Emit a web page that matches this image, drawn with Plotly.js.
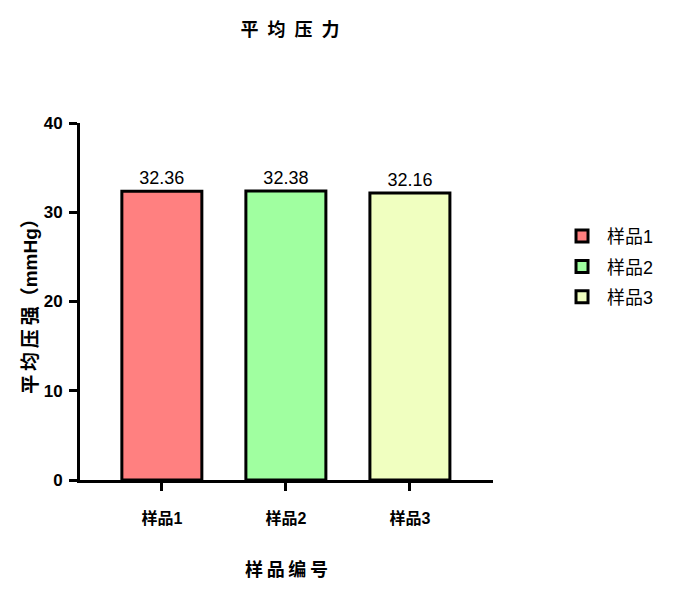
<!DOCTYPE html>
<html>
<head>
<meta charset="utf-8">
<script src="https://cdn.plot.ly/plotly-3.0.1.min.js"></script>
<style>html,body{margin:0;padding:0;background:#fff;}</style>
</head>
<body>
<div id="chart" style="width:679px;height:599px;"></div>
<script>
const categories = ["样品1", "样品2", "样品3"];
const values = [32.36, 32.38, 32.16];
const labels = ["32.36", "32.38", "32.16"];
const colors = ["#FF8080", "#A0FFA0", "#F0FFC0"];

const CJK = "Arial, 'Liberation Sans', 'Noto Sans CJK SC', sans-serif";

const traces = categories.map((c, i) => ({
  type: "bar",
  x: [c],
  y: [values[i]],
  name: c,
  width: 0.645,
  marker: { color: colors[i], line: { color: "#000", width: 3 } },
  text: [labels[i]],
  textposition: "outside",
  textfont: { family: CJK, size: 18, color: "#000" },
  cliponaxis: false,
  legendgroup: "g" + i,
  hoverinfo: "none"
}));

const layout = {
  width: 679,
  height: 599,
  margin: { l: 80, r: 186, t: 123, b: 119 },
  paper_bgcolor: "#fff",
  plot_bgcolor: "#fff",
  barmode: "overlay",
  title: {
    text: "<b>平\u2002均\u2002压\u2002力</b>",
    font: { family: CJK, size: 18, color: "#000" },
    x: 0.427, xanchor: "center",
    y: 0.95, yanchor: "middle",
    yref: "container"
  },
  xaxis: {
    type: "category",
    categoryorder: "array",
    categoryarray: categories,
    range: [-0.66, 2.67],
    showline: true, linewidth: 3, linecolor: "#000",
    ticks: "outside", ticklen: 8, tickwidth: 3, tickcolor: "#000",
    ticklabelstandoff: 14,
    tickfont: { family: CJK, size: 16, color: "#000", weight: "bold" },
    showgrid: false, zeroline: false,
    title: { text: "<b>样\u2009品\u2009编\u2009号</b>", font: { family: CJK, size: 18, color: "#000" }, standoff: 38 }
  },
  yaxis: {
    range: [0, 40],
    dtick: 10,
    showline: true, linewidth: 3, linecolor: "#000",
    ticks: "outside", ticklen: 8, tickwidth: 3, tickcolor: "#000",
    ticklabelstandoff: 3,
    tickfont: { family: CJK, size: 17, color: "#000", weight: "bold" },
    showgrid: false, zeroline: false,
    title: { text: "<b>平\u2009均\u2009压\u2009强（mmHg）</b>", font: { family: CJK, size: 19, color: "#000" }, standoff: 2 }
  },
  showlegend: true,
  legend: {
    x: 1.155, xanchor: "left",
    y: 0.597, yanchor: "middle",
    traceorder: "grouped",
    tracegroupgap: 4,
    itemwidth: 40,
    font: { family: CJK, size: 18, color: "#000" },
    bgcolor: "rgba(0,0,0,0)"
  }
};

Plotly.newPlot("chart", traces, layout, { displayModeBar: false, staticPlot: true });
</script>
</body>
</html>
